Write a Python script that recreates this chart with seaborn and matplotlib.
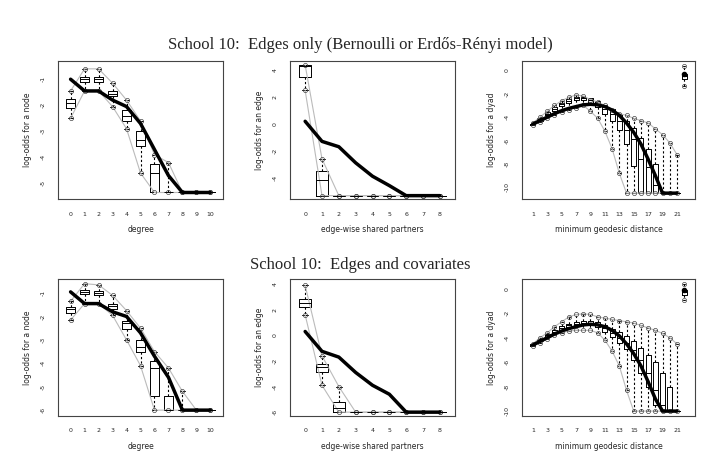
import numpy as np
import matplotlib
matplotlib.use("Agg")
import matplotlib.pyplot as plt
import seaborn as sns

# ---- degree ----
deg_x = list(range(11))
deg1_obs = [-1.0, -1.45, -1.45, -1.8, -2.05, -2.7, -3.7, -4.7, -5.35, -5.35, -5.35]
deg1_lo = [-2.5, -1.45, -1.45, -2.05, -2.9, -4.6, -5.35, -5.35, -5.35, -5.35, -5.35]
deg1_q1 = [-2.1, -1.1, -1.1, -1.65, -2.6, -3.55, -5.35, -5.35, -5.35, -5.35, -5.35]
deg1_med = [-1.9, -1.0, -1.0, -1.55, -2.4, -3.35, -4.6, -5.35, -5.35, -5.35, -5.35]
deg1_q3 = [-1.75, -0.9, -0.9, -1.45, -2.2, -3.0, -4.25, -5.35, -5.35, -5.35, -5.35]
deg1_hi = [-1.45, -0.6, -0.6, -1.15, -1.8, -2.6, -3.9, -4.2, -5.35, -5.35, -5.35]

deg2_obs = [-0.95, -1.45, -1.45, -1.8, -2.0, -2.7, -3.7, -4.6, -6.0, -6.0, -6.0]
deg2_lo = [-2.15, -1.45, -1.45, -1.95, -3.0, -4.1, -6.0, -6.0, -6.0, -6.0, -6.0]
deg2_q1 = [-1.85, -1.05, -1.1, -1.7, -2.55, -3.5, -5.4, -6.0, -6.0, -6.0, -6.0]
deg2_med = [-1.7, -0.95, -1.0, -1.55, -2.3, -3.3, -4.2, -6.0, -6.0, -6.0, -6.0]
deg2_q3 = [-1.6, -0.85, -0.9, -1.45, -2.2, -3.0, -3.9, -5.4, -6.0, -6.0, -6.0]
deg2_hi = [-1.35, -0.6, -0.65, -1.1, -1.75, -2.5, -3.5, -4.2, -5.2, -6.0, -6.0]

# ---- edge-wise shared partners ----
esp_x = list(range(9))
esp1_obs = [0.2, -1.3, -1.7, -2.9, -3.9, -4.6, -5.35, -5.35, -5.35]
esp1_lo = [2.5, -5.35, -5.35, -5.35, -5.35, -5.35, -5.35, -5.35, -5.35]
esp1_q1 = [3.5, -5.35, -5.35, -5.35, -5.35, -5.35, -5.35, -5.35, -5.35]
esp1_med = [4.3, -4.2, -5.35, -5.35, -5.35, -5.35, -5.35, -5.35, -5.35]
esp1_q3 = [4.4, -3.5, -5.35, -5.35, -5.35, -5.35, -5.35, -5.35, -5.35]
esp1_hi = [4.4, -2.6, -5.35, -5.35, -5.35, -5.35, -5.35, -5.35, -5.35]

esp2_obs = [0.3, -1.25, -1.7, -2.9, -3.9, -4.6, -6.0, -6.0, -6.0]
esp2_lo = [1.6, -3.9, -6.0, -6.0, -6.0, -6.0, -6.0, -6.0, -6.0]
esp2_q1 = [2.2, -2.9, -6.0, -6.0, -6.0, -6.0, -6.0, -6.0, -6.0]
esp2_med = [2.5, -2.5, -5.7, -6.0, -6.0, -6.0, -6.0, -6.0, -6.0]
esp2_q3 = [2.85, -2.2, -5.2, -6.0, -6.0, -6.0, -6.0, -6.0, -6.0]
esp2_hi = [3.9, -1.6, -4.0, -6.0, -6.0, -6.0, -6.0, -6.0, -6.0]

# ---- minimum geodesic distance (22 = Inf) ----
dist_x = list(range(1, 23))
dist1_obs = [-4.6, -4.3, -4.0, -3.7, -3.45, -3.25, -3.1, -2.95, -2.9, -2.95, -3.1,
             -3.4, -3.85, -4.5, -5.3, -6.3, -7.6, -9.0, -10.5, -10.5, -10.5, -0.3]
dist1_lo = [-4.7, -4.4, -4.1, -3.8, -3.55, -3.35, -3.2, -3.0, -3.5, -4.1, -5.2,
            -6.7, -8.8, -10.5, -10.5, -10.5, -10.5, -10.5, -10.5, -10.5, -10.5, -1.3]
dist1_q1 = [-4.65, -4.3, -3.85, -3.45, -3.05, -2.75, -2.55, -2.55, -2.75, -3.1, -3.7,
            -4.3, -5.1, -6.3, -8.2, -10.5, -10.5, -10.5, -10.5, -10.5, -10.5, -0.7]
dist1_med = [-4.6, -4.2, -3.7, -3.3, -2.9, -2.6, -2.4, -2.4, -2.55, -2.85, -3.3,
             -3.75, -4.3, -5.1, -5.9, -7.6, -8.3, -9.8, -10.5, -10.5, -10.5, -0.5]
dist1_q3 = [-4.55, -4.1, -3.55, -3.15, -2.75, -2.45, -2.25, -2.25, -2.35, -2.6, -2.95,
            -3.3, -3.7, -4.3, -4.9, -5.8, -6.7, -8.0, -10.5, -10.5, -10.5, -0.3]
dist1_hi = [-4.5, -4.0, -3.5, -3.0, -2.6, -2.3, -2.1, -2.2, -2.5, -2.7, -3.0,
            -3.4, -3.7, -3.85, -4.1, -4.3, -4.5, -5.0, -5.5, -6.2, -7.2, 0.4]

dist2_obs = [-4.6, -4.3, -4.0, -3.7, -3.45, -3.25, -3.1, -2.95, -2.9, -2.95, -3.1,
             -3.4, -3.85, -4.5, -5.3, -6.3, -7.6, -9.0, -10.0, -10.0, -10.0, -0.1]
dist2_lo = [-4.7, -4.4, -4.1, -3.8, -3.6, -3.45, -3.4, -3.4, -3.4, -3.6, -4.2,
            -5.1, -6.3, -8.3, -10.0, -10.0, -10.0, -10.0, -10.0, -10.0, -10.0, -0.9]
dist2_q1 = [-4.65, -4.3, -3.95, -3.6, -3.35, -3.15, -3.0, -2.95, -2.95, -3.1, -3.5,
            -3.95, -4.4, -4.9, -5.8, -6.9, -8.0, -9.5, -10.0, -10.0, -10.0, -0.5]
dist2_med = [-4.6, -4.2, -3.8, -3.5, -3.2, -3.0, -2.85, -2.8, -2.8, -2.9, -3.2,
             -3.6, -4.0, -4.4, -5.0, -5.8, -6.9, -8.3, -9.5, -10.0, -10.0, -0.3]
dist2_q3 = [-4.55, -4.1, -3.7, -3.35, -3.05, -2.85, -2.7, -2.65, -2.65, -2.75, -2.95,
            -3.25, -3.55, -3.85, -4.3, -4.8, -5.4, -6.0, -6.9, -8.0, -10.0, -0.1]
dist2_hi = [-4.5, -4.0, -3.6, -3.1, -2.7, -2.3, -2.1, -2.05, -2.1, -2.3, -2.4,
            -2.5, -2.6, -2.7, -2.8, -3.0, -3.2, -3.4, -3.65, -4.0, -4.5, 0.4]

sns.set_style("white")
plt.rcParams['font.family'] = ['DejaVu Sans']

fig = plt.figure(figsize=(7.2, 4.72), dpi=100)
W, H = 720, 472


def add_ax(x0, x1, ytop, ybot):
    return fig.add_axes([x0 / W, 1 - ybot / H, (x1 - x0) / W, (ybot - ytop) / H])


def panel(ax, x, obs, lo, q1, med, q3, hi, ylim, yticks, xlabel, ylabel, xticklabels, n_line=None):
    stats = []
    for i in range(len(x)):
        stats.append(dict(med=med[i], q1=q1[i], q3=q3[i], whislo=lo[i], whishi=hi[i], fliers=[]))
    ax.bxp(stats, positions=x, widths=0.7, showfliers=False, patch_artist=False,
           boxprops=dict(color='black', linewidth=0.7),
           medianprops=dict(color='black', linewidth=0.7),
           whiskerprops=dict(color='black', linewidth=0.8, linestyle=(0, (2, 2))),
           capprops=dict(color='black', linewidth=0.7))
    n = n_line if n_line is not None else len(x)
    mk = dict(marker='o', markersize=3, markerfacecolor='none',
              markeredgecolor='#444444', markeredgewidth=0.5)
    ax.plot(x[:n], lo[:n], color='#bbbbbb', linewidth=0.8, **mk)
    ax.plot(x[:n], hi[:n], color='#bbbbbb', linewidth=0.8, **mk)
    ax.plot(x[:n], obs[:n], color='black', linewidth=2.5)
    if n < len(x):
        ax.plot(x[n:], lo[n:], linestyle='none', **mk)
        ax.plot(x[n:], hi[n:], linestyle='none', **mk)
        ax.plot(x[n:], obs[n:], linestyle='none', marker='o', markersize=3, color='black')
    ax.set_ylim(*ylim)
    ax.set_xlim(x[0] - 0.9, x[-1] + 0.9)
    ax.set_yticks(yticks)
    ax.set_yticklabels([str(t) for t in yticks], rotation=90, va='center', fontsize=4.5)
    ax.set_xticks(x)
    ax.set_xticklabels(xticklabels, fontsize=4.5)
    ax.tick_params(length=3, width=0.6, pad=6)
    ax.set_xlabel(xlabel, fontsize=5.5, labelpad=6)
    ax.set_ylabel(ylabel, fontsize=5.5, labelpad=6)
    for s in ax.spines.values():
        s.set_linewidth(0.8)
        s.set_color('#444444')


deg_lab = [str(v) for v in deg_x]
esp_lab = [str(v) for v in esp_x]
dist_lab = [str(v) if (v % 2 == 1 and v <= 21) else '' for v in dist_x]

rows = [(61, 199, 'School 10:  Edges only (Bernoulli or Erdős-Rényi model)', 45,
         (deg1_obs, deg1_lo, deg1_q1, deg1_med, deg1_q3, deg1_hi),
         (esp1_obs, esp1_lo, esp1_q1, esp1_med, esp1_q3, esp1_hi),
         (dist1_obs, dist1_lo, dist1_q1, dist1_med, dist1_q3, dist1_hi),
         (-5.6, -0.3), [-1, -2, -3, -4, -5], (-5.6, 4.7), [4, 2, 0, -2, -4], (-11, 0.8)),
        (279, 416, 'School 10:  Edges and covariates', 265,
         (deg2_obs, deg2_lo, deg2_q1, deg2_med, deg2_q3, deg2_hi),
         (esp2_obs, esp2_lo, esp2_q1, esp2_med, esp2_q3, esp2_hi),
         (dist2_obs, dist2_lo, dist2_q1, dist2_med, dist2_q3, dist2_hi),
         (-6.25, -0.4), [-1, -2, -3, -4, -5, -6], (-6.3, 4.4), [4, 2, 0, -2, -4, -6], (-10.4, 0.8))]

for top, bot, title, ty, d, e, g, dyl, dyt, eyl, eyt, gyl in rows:
    fig.text(0.5, 1 - ty / H, title, ha='center', va='center', fontsize=12,
             family='Liberation Serif')
    ax = add_ax(58, 223, top, bot)
    panel(ax, deg_x, *d, dyl, dyt, 'degree', 'log-odds for a node', deg_lab)
    ax = add_ax(290, 455, top, bot)
    panel(ax, esp_x, *e, eyl, eyt, 'edge-wise shared partners', 'log-odds for an edge', esp_lab)
    ax = add_ax(522, 695, top, bot)
    panel(ax, dist_x, *g, gyl, [0, -2, -4, -6, -8, -10], 'minimum geodesic distance',
          'log-odds for a dyad', dist_lab, n_line=21)
    ax.set_xlim(-0.5, 23.5)

fig.savefig('out.png', dpi=100)
